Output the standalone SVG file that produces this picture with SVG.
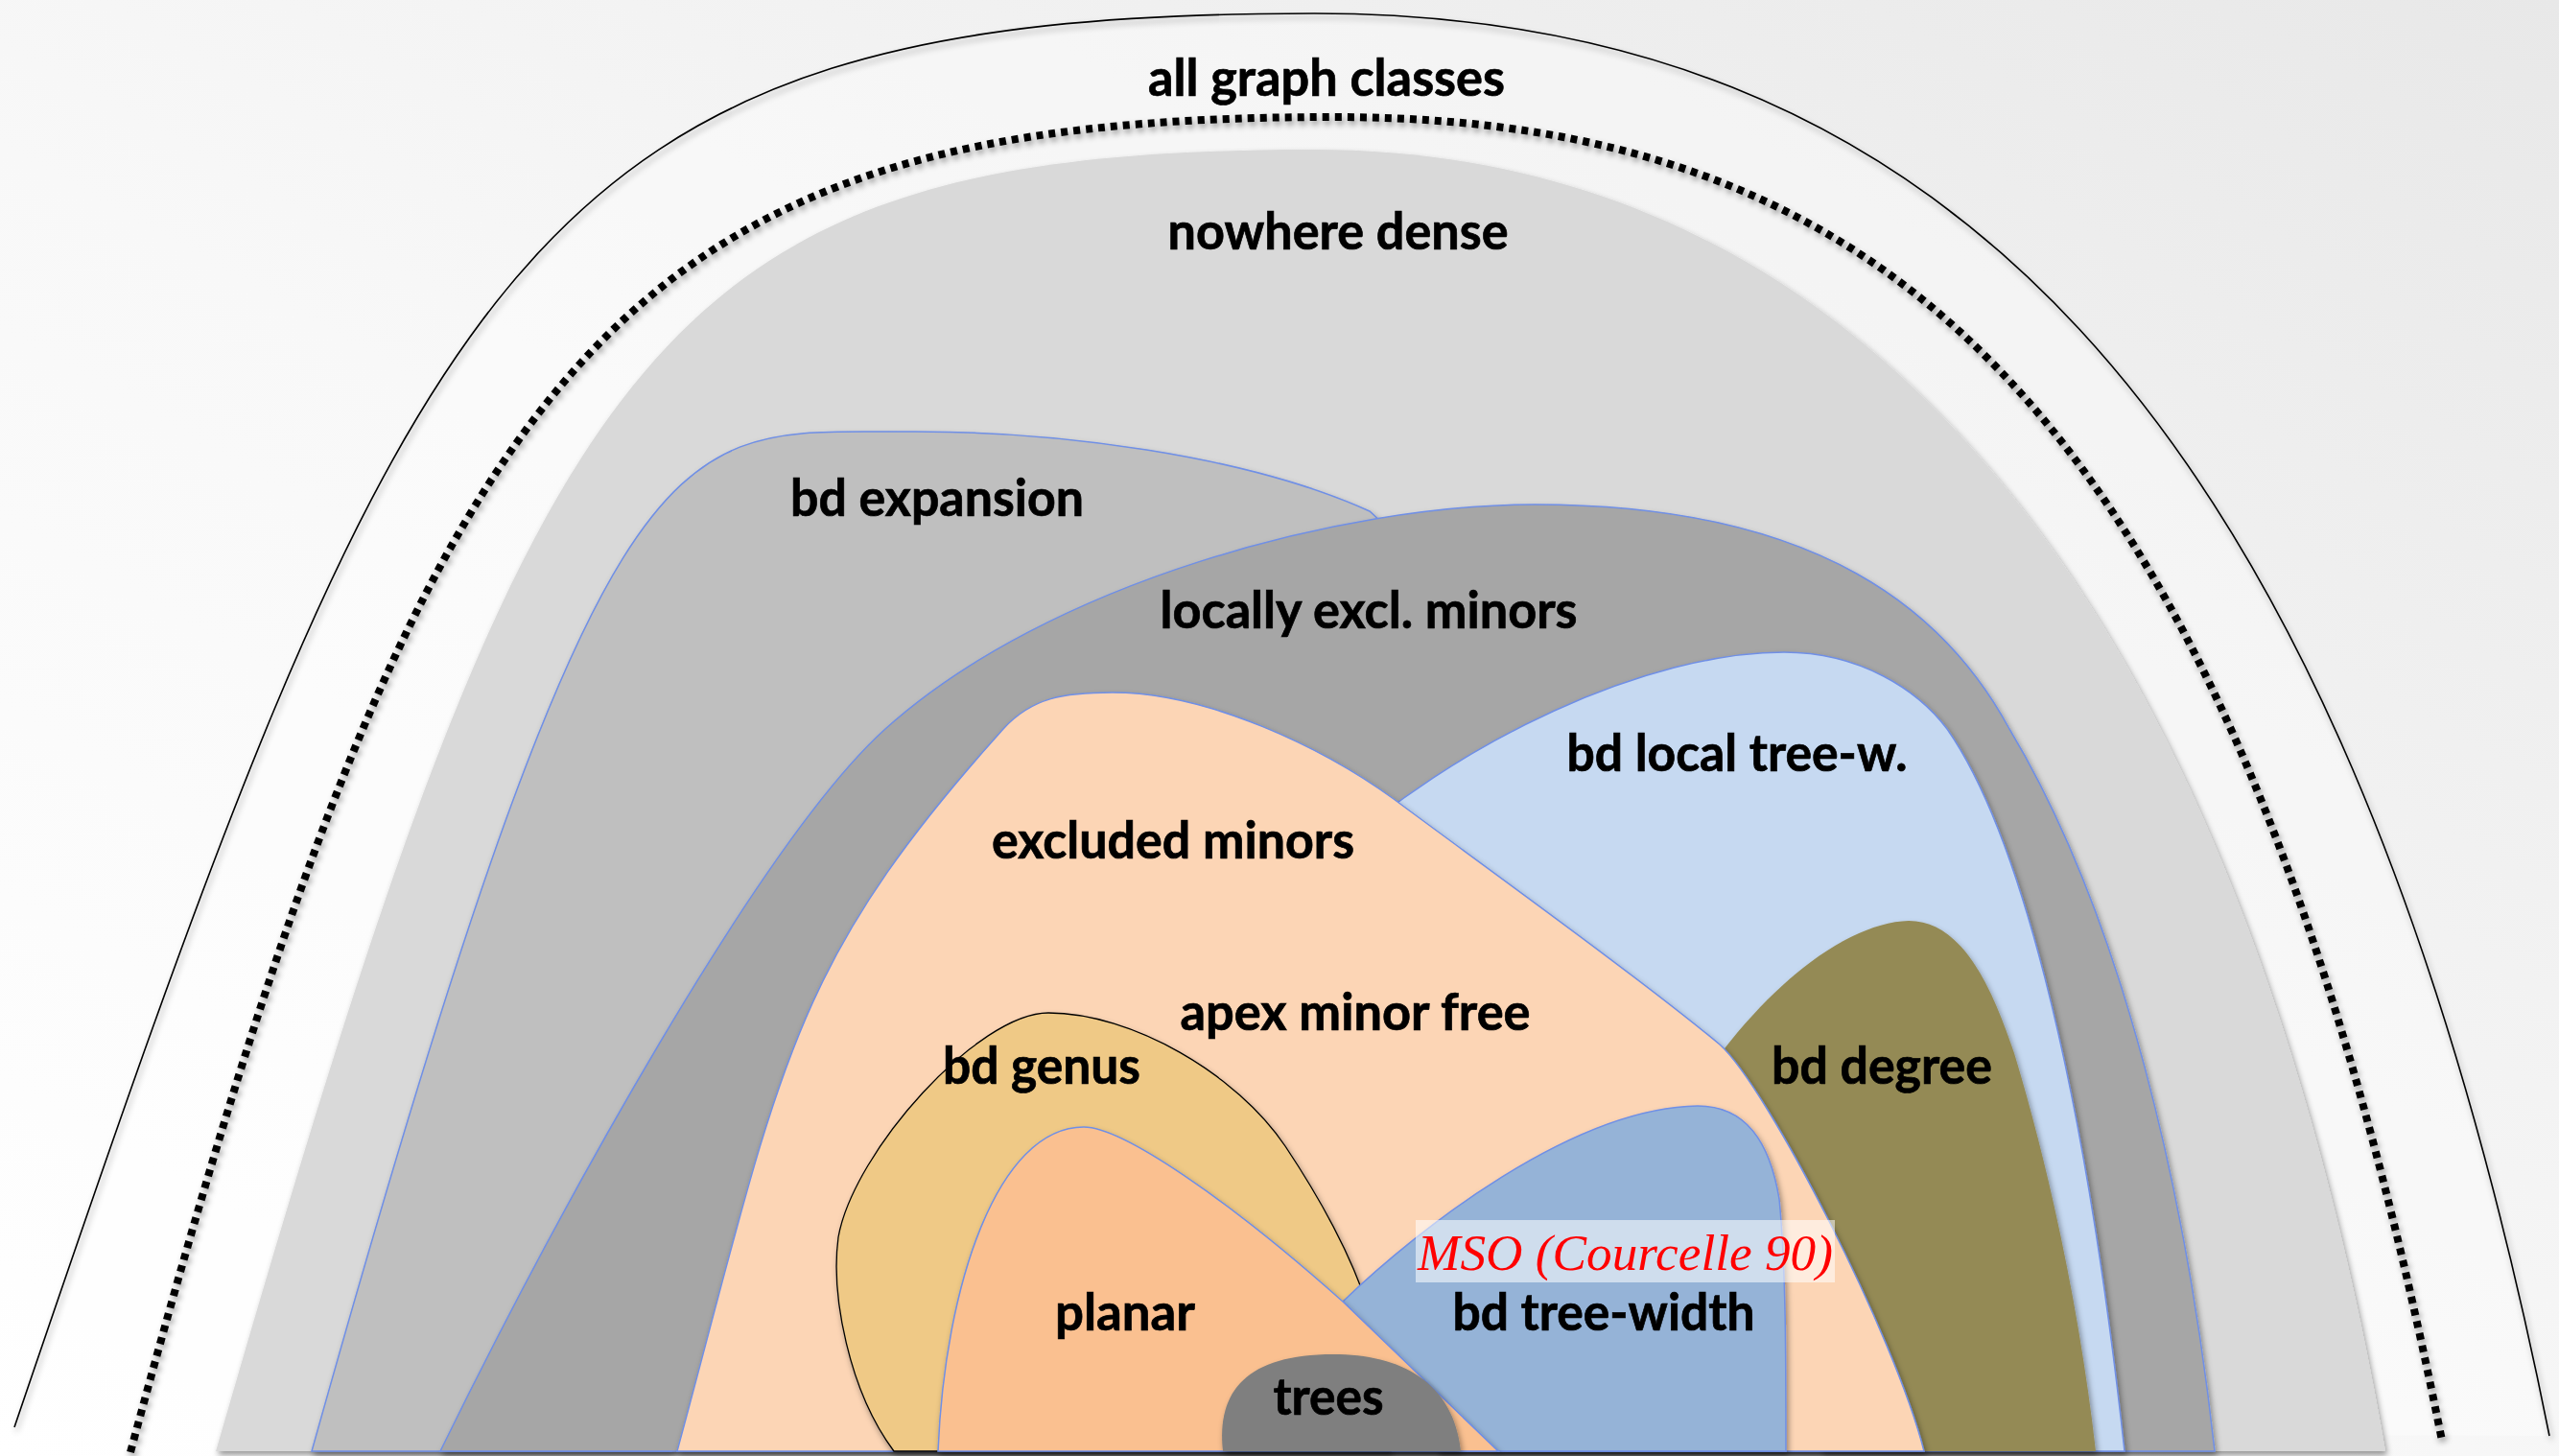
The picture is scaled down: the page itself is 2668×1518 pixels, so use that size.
<svg xmlns="http://www.w3.org/2000/svg" width="2668" height="1518" viewBox="0 0 2668 1518">
  <defs>
    <linearGradient id="bg" x1="0" y1="1" x2="1" y2="0">
      <stop offset="0" stop-color="#ffffff"/>
      <stop offset="0.45" stop-color="#f8f8f8"/>
      <stop offset="1" stop-color="#e8e8e8"/>
    </linearGradient>
    <filter id="sh" x="-5%" y="-5%" width="110%" height="110%">
      <feDropShadow dx="2" dy="4" stdDeviation="3" flood-color="#000" flood-opacity="0.4"/>
    </filter>
    <style>
      .lbl { font-family: Lato, "Liberation Sans", sans-serif; font-weight: 700; font-size: 53px; fill: #000; stroke: #000; stroke-width: 0.7; text-anchor: middle; }
      .mso { font-family: "Liberation Serif", "Times New Roman", serif; font-style: italic; font-size: 53px; fill: #ff0000; }
      .edge { stroke: #6f8fe6; stroke-width: 1.5; }
      .shape { filter: url(#sh); }
    </style>
  </defs>
  <rect x="0" y="0" width="2668" height="1518" fill="url(#bg)"/>

  <g id="all-graph-classes">
    <path d="M15,1488 C433,258 540,14 1370,14 C2000,14 2438,397 2658,1497" fill="#ffffff" fill-opacity="0.35" stroke="none"/>
    <path d="M15,1488 C433,258 540,14 1370,14 C2000,14 2438,397 2658,1497" fill="none" stroke="#000" stroke-width="1.6" filter="url(#sh)"/>
    <text class="lbl" x="1383" y="100" textLength="372" lengthAdjust="spacingAndGlyphs">all graph classes</text>
  </g>

  <g id="dotted-boundary">
    <path d="M136,1514 C446,364 640,122 1390,122 C1990,122 2336,452 2546,1502" fill="none" stroke="#000" stroke-width="8" stroke-dasharray="7 6" filter="url(#sh)"/>
  </g>

  <g id="nowhere-dense">
    <path class="shape" d="M225,1513 C558,360 670,156 1370,156 C1900,156 2320,560 2487,1513 Z" fill="#d9d9d9"/>
    <text class="lbl" x="1395" y="260" textLength="355" lengthAdjust="spacingAndGlyphs">nowhere dense</text>
  </g>

  <g id="bd-expansion">
    <path class="shape edge" d="M325,1513 C633,414 700,450 936,450 C1100,448 1300,475 1428,533 L1500,600 L700,1513 Z" fill="#bfbfbf"/>
    <text class="lbl" x="977" y="538" textLength="306" lengthAdjust="spacingAndGlyphs">bd expansion</text>
  </g>

  <g id="locally-excl-minors">
    <path class="shape edge" d="M459,1513 C581,1264 793,877 923,760 C1093,607 1400,526 1600,526 C1900,526 2030,640 2095,760 C2215,960 2280,1250 2309,1513 Z" fill="#a6a6a6"/>
    <text class="lbl" x="1427" y="655" textLength="435" lengthAdjust="spacingAndGlyphs">locally excl. minors</text>
  </g>

  <g id="bd-local-tree-width">
    <path class="shape edge" d="M1380,900 C1520,770 1720,680 1860,680 C1940,680 2000,720 2030,760 C2100,860 2170,1100 2215,1513 L1500,1513 Z" fill="#c6d9f1"/>
    <text class="lbl" x="1811" y="804" textLength="355" lengthAdjust="spacingAndGlyphs">bd local tree-w.</text>
  </g>

  <g id="bd-degree">
    <path class="shape" d="M1740,1180 C1820,1040 1920,962 1990,960 C2050,960 2080,1040 2100,1098 C2140,1230 2170,1380 2185,1513 L1900,1513 Z" fill="#948a54"/>
    <text class="lbl" x="1962" y="1130" textLength="230" lengthAdjust="spacingAndGlyphs">bd degree</text>
  </g>

  <g id="excluded-minors">
    <path class="shape edge" d="M706,1513 C814,1114 821,1010 1046,760 C1076,727 1110,722 1160,722 C1260,722 1380,780 1453,833 C1550,905 1710,1020 1793,1089 C1843,1134 1976,1394 2006,1513 Z" fill="#fcd5b5"/>
    <text class="lbl" x="1223" y="895" textLength="378" lengthAdjust="spacingAndGlyphs">excluded minors</text>
    <text class="lbl" x="1413" y="1074" textLength="365" lengthAdjust="spacingAndGlyphs">apex minor free</text>
  </g>

  <g id="bd-genus">
    <path class="shape" d="M932,1513 C885,1450 866,1350 874,1290 C890,1200 1020,1056 1093,1056 C1180,1056 1290,1120 1340,1195 C1380,1255 1405,1305 1420,1345 L1450,1513 Z" fill="#efc986" stroke="#000" stroke-width="1.3"/>
    <text class="lbl" x="1086" y="1130" textLength="206" lengthAdjust="spacingAndGlyphs">bd genus</text>
  </g>

  <g id="bd-tree-width">
    <path class="shape edge" d="M1400,1357 C1480,1280 1640,1155 1770,1153 C1820,1153 1845,1190 1855,1250 C1862,1320 1862,1420 1862,1513 L1562,1513 Z" fill="#95b3d7"/>
    <text class="lbl" x="1672" y="1387" textLength="315" lengthAdjust="spacingAndGlyphs">bd tree-width</text>
  </g>

  <g id="planar">
    <path class="shape edge" d="M978,1513 C985,1340 1040,1175 1130,1175 C1170,1175 1280,1250 1400,1357 L1562,1513 Z" fill="#fac090"/>
    <text class="lbl" x="1173" y="1387" textLength="146" lengthAdjust="spacingAndGlyphs">planar</text>
  </g>

  <g id="trees">
    <path class="shape" d="M1275,1513 C1268,1450 1300,1412 1390,1412 C1460,1412 1515,1440 1523,1513 Z" fill="#7f7f7f"/>
    <text class="lbl" x="1385" y="1475" textLength="115" lengthAdjust="spacingAndGlyphs">trees</text>
  </g>

  <g id="mso-note">
    <rect x="1476" y="1272" width="437" height="65" fill="#ffffff" fill-opacity="0.55"/>
    <text class="mso" x="1478" y="1324" textLength="433" lengthAdjust="spacingAndGlyphs">MSO (Courcelle 90)</text>
  </g>

  <g id="connectors"/>
</svg>
